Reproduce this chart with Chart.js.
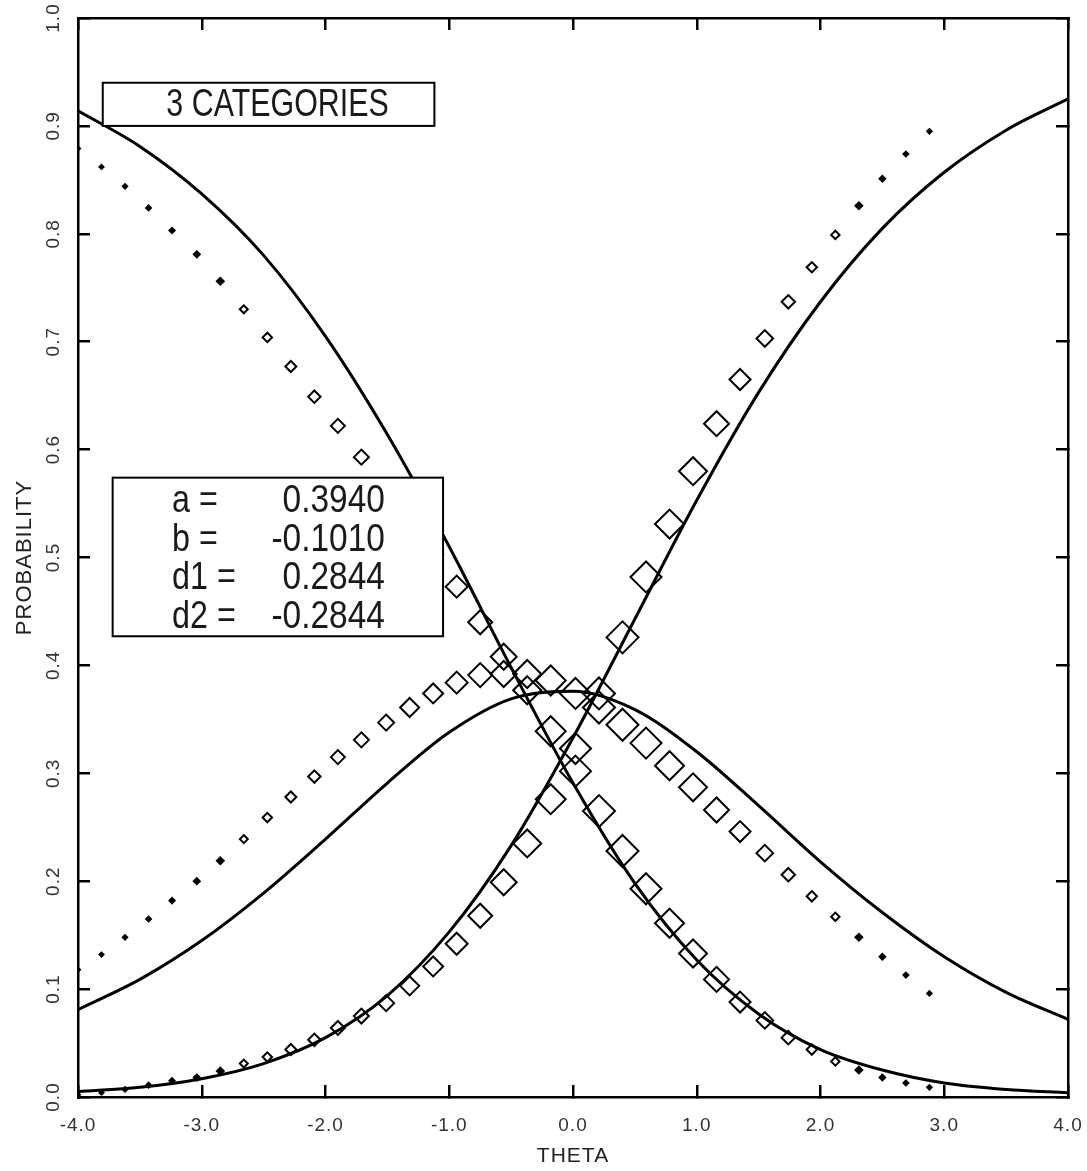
<!DOCTYPE html>
<html>
<head>
<meta charset="utf-8">
<script src="https://cdn.jsdelivr.net/npm/chart.js@4.4.0/dist/chart.umd.min.js"></script>
<style>
  html, body { margin: 0; padding: 0; background: #fff; }
</style>
</head>
<body>
<canvas id="mycanvas" width="1087" height="1171"></canvas>
<script>
// observed proportions (diamonds), one point per theta group
var theta = [-4.00, -3.81, -3.62, -3.43, -3.24, -3.04, -2.85, -2.66, -2.47, -2.28,
             -2.09, -1.90, -1.71, -1.51, -1.32, -1.13, -0.94, -0.75, -0.56, -0.37,
             -0.18, 0.02, 0.21, 0.40, 0.59, 0.78, 0.97, 1.16, 1.35, 1.55,
             1.74, 1.93, 2.12, 2.31, 2.50, 2.69, 2.88];
var obsCat1 = [0.879, 0.862, 0.844, 0.824, 0.803, 0.781, 0.756, 0.730, 0.704, 0.677,
               0.649, 0.622, 0.593, 0.563, 0.533, 0.503, 0.473, 0.440, 0.408, 0.377,
               0.339, 0.302, 0.265, 0.228, 0.193, 0.161, 0.133, 0.109, 0.088, 0.071,
               0.055, 0.044, 0.033, 0.025, 0.018, 0.013, 0.009];
var obsCat2 = [0.118, 0.132, 0.148, 0.165, 0.182, 0.200, 0.219, 0.239, 0.259, 0.278,
               0.297, 0.315, 0.331, 0.347, 0.361, 0.374, 0.384, 0.391, 0.392, 0.392,
               0.386, 0.374, 0.361, 0.345, 0.328, 0.307, 0.287, 0.266, 0.246, 0.226,
               0.206, 0.186, 0.167, 0.148, 0.130, 0.113, 0.096];
var obsCat3 = [0.002, 0.004, 0.007, 0.011, 0.015, 0.018, 0.024, 0.031, 0.037, 0.044,
               0.053, 0.064, 0.075, 0.087, 0.103, 0.121, 0.142, 0.168, 0.199, 0.235,
               0.276, 0.323, 0.374, 0.426, 0.482, 0.531, 0.580, 0.624, 0.665, 0.703,
               0.737, 0.769, 0.799, 0.826, 0.851, 0.874, 0.895];
// marker size of each group (bigger = more examinees)
var groupWeight = [2, 2, 2.2, 2.4, 2.6, 3, 3.4, 4, 4.7, 5.5,
                   6.2, 7, 7.5, 8, 9.5, 10, 11, 12, 13, 14,
                   15, 15.5, 16, 16, 15.5, 14.5, 14, 12.5, 10.5, 8.3,
                   6.7, 5.2, 4.2, 3.4, 2.8, 2.4, 2.2];

// fitted category curves
var curveTheta = [-4.0, -3.5, -3.0, -2.5, -2.0, -1.5, -1.0, -0.5, 0.0, 0.5, 1.0, 1.5, 2.0, 2.5, 3.0, 3.5, 4.0];
var fitCat1 = [0.914, 0.881, 0.837, 0.780, 0.705, 0.614, 0.510, 0.398, 0.291, 0.198, 0.127, 0.077, 0.044, 0.025, 0.013, 0.007, 0.004];
var fitCat2 = [0.081, 0.109, 0.145, 0.189, 0.239, 0.291, 0.338, 0.369, 0.376, 0.359, 0.320, 0.270, 0.218, 0.171, 0.130, 0.097, 0.072];
var fitCat3 = [0.005, 0.009, 0.017, 0.031, 0.055, 0.094, 0.153, 0.233, 0.333, 0.443, 0.553, 0.653, 0.737, 0.805, 0.857, 0.896, 0.925];

var xTickLabels = ['-4.0', '-3.0', '-2.0', '-1.0', '0.0', '1.0', '2.0', '3.0', '4.0'];
var yTickLabels = ['0.0', '0.1', '0.2', '0.3', '0.4', '0.5', '0.6', '0.7', '0.8', '0.9', '1.0'];

var titleText = '3 CATEGORIES';
var paramNames = ['a =', 'b =', 'd1 =', 'd2 ='];
var paramValues = ['0.3940', '-0.1010', '0.2844', '-0.2844'];

function points(xs, ys) {
  var out = [];
  for (var i in xs) {
    out.push({x: xs[i], y: ys[i]});
  }
  return out;
}

function obsSet(ys) {
  return {
    data: points(theta, ys),
    pointStyle: 'rectRot',
    pointRadius: groupWeight,
    pointBorderWidth: 2,
    pointBorderColor: '#000',
    // the smallest groups print as solid dots
    pointBackgroundColor: function(c) {
      return groupWeight[c.dataIndex] < 3.5 ? '#000' : 'rgba(0,0,0,0)';
    },
    showLine: false
  };
}

function curveSet(ys) {
  return {
    data: points(curveTheta, ys),
    showLine: true,
    borderColor: '#000',
    borderWidth: 3,
    pointRadius: 0,
    cubicInterpolationMode: 'monotone'
  };
}

var boxFont = '"Liberation Sans", sans-serif';

// condensed text: squeeze horizontally around the anchor
function narrowText(ctx, txt, x, y, align, squeeze) {
  ctx.save();
  ctx.translate(x, y);
  ctx.scale(squeeze, 1);
  ctx.textAlign = align;
  ctx.fillText(txt, 0, 0);
  ctx.restore();
}

// wider letter spacing for the axis texts only
var spacedAxisText = {
  id: 'spacedAxisText',
  beforeDraw: function(chart) { chart.ctx.letterSpacing = '1px'; },
  beforeDatasetsDraw: function(chart) { chart.ctx.letterSpacing = '0px'; }
};

// the two framed text boxes, placed in axis units
var textBoxes = {
  id: 'textBoxes',
  afterDatasetsDraw: function(chart) {
    var ctx = chart.ctx;
    var xs = chart.scales.x, ys = chart.scales.y;
    ctx.save();

    // "3 CATEGORIES"
    var l = xs.getPixelForValue(-3.80), r = xs.getPixelForValue(-1.12);
    var t = ys.getPixelForValue(0.94), b = ys.getPixelForValue(0.90);
    ctx.fillStyle = '#fff';
    ctx.fillRect(l, t, r - l, b - t);
    ctx.strokeStyle = '#000';
    ctx.lineWidth = 2;
    ctx.strokeRect(l, t, r - l, b - t);
    ctx.fillStyle = '#1a1a1a';
    ctx.font = '38px ' + boxFont;
    ctx.textBaseline = 'middle';
    narrowText(ctx, titleText, (l + r) / 2 + 9, (t + b) / 2 + 1, 'center', 0.8);

    // parameter box
    l = xs.getPixelForValue(-3.72); r = xs.getPixelForValue(-1.05);
    t = ys.getPixelForValue(0.574); b = ys.getPixelForValue(0.427);
    ctx.fillStyle = '#fff';
    ctx.fillRect(l, t, r - l, b - t);
    ctx.strokeRect(l, t, r - l, b - t);
    ctx.fillStyle = '#1a1a1a';
    var nameX = xs.getPixelForValue(-3.24);
    var valX = xs.getPixelForValue(-1.52);
    for (var i = 0; i < paramNames.length; i++) {
      var y = t + 24 + i * 38.5;
      narrowText(ctx, paramNames[i], nameX, y, 'left', 0.85);
      narrowText(ctx, paramValues[i], valX, y, 'right', 0.88);
    }
    ctx.restore();
  }
};

var tickFont = {family: '"Liberation Sans", sans-serif', size: 19};
var axisBorder = {display: true, color: '#000', width: 2.5};
var inTicks = {drawOnChartArea: false, drawTicks: true, tickLength: -12, color: '#000', lineWidth: 2.5};

function noPad(s) {
  s.paddingLeft = 0; s.paddingRight = 0; s.paddingTop = 0; s.paddingBottom = 0;
}

var ctx = document.getElementById('mycanvas');

var chart = new Chart(ctx, {
  type: 'scatter',
  data: {
    datasets: [
      curveSet(fitCat1), curveSet(fitCat2), curveSet(fitCat3),
      obsSet(obsCat1), obsSet(obsCat2), obsSet(obsCat3)
    ]
  },
  options: {
    responsive: false,
    devicePixelRatio: 1,
    animation: false,
    events: [],
    layout: {padding: {left: 0, top: 17, right: 19, bottom: 0}},
    plugins: {legend: {display: false}, tooltip: {enabled: false}},
    scales: {
      x: {
        type: 'linear', position: 'bottom', min: -4, max: 4,
        border: axisBorder, grid: inTicks,
        ticks: {
          stepSize: 1, minRotation: 0, maxRotation: 0, padding: 29,
          color: '#333', font: tickFont,
          callback: function(v, i) { return xTickLabels[i]; }
        },
        title: {display: true, text: 'THETA', color: '#222',
                font: {family: '"Liberation Sans", sans-serif', size: 21}, padding: {top: 0, bottom: 2}},
        afterFit: function(s) { s.height = 74; noPad(s); }
      },
      y: {
        type: 'linear', position: 'left', min: 0, max: 1,
        border: axisBorder, grid: inTicks,
        ticks: {
          stepSize: 0.1, minRotation: 90, maxRotation: 90, crossAlign: 'center', padding: 23,
          color: '#333', font: tickFont,
          callback: function(v, i) { return yTickLabels[i]; }
        },
        title: {display: true, text: 'PROBABILITY', color: '#222',
                font: {family: '"Liberation Sans", sans-serif', size: 22}, padding: {top: 12, bottom: 0}},
        afterFit: function(s) { s.width = 78; noPad(s); }
      },
      xTop: {
        type: 'linear', position: 'top', min: -4, max: 4,
        border: axisBorder, grid: inTicks,
        ticks: {stepSize: 1, display: false},
        afterFit: function(s) { s.height = 0; noPad(s); }
      },
      yRight: {
        type: 'linear', position: 'right', min: 0, max: 1,
        border: axisBorder, grid: inTicks,
        ticks: {stepSize: 0.1, display: false},
        afterFit: function(s) { s.width = 0; noPad(s); }
      }
    }
  },
  plugins: [spacedAxisText, textBoxes]
});
</script>
</body>
</html>
